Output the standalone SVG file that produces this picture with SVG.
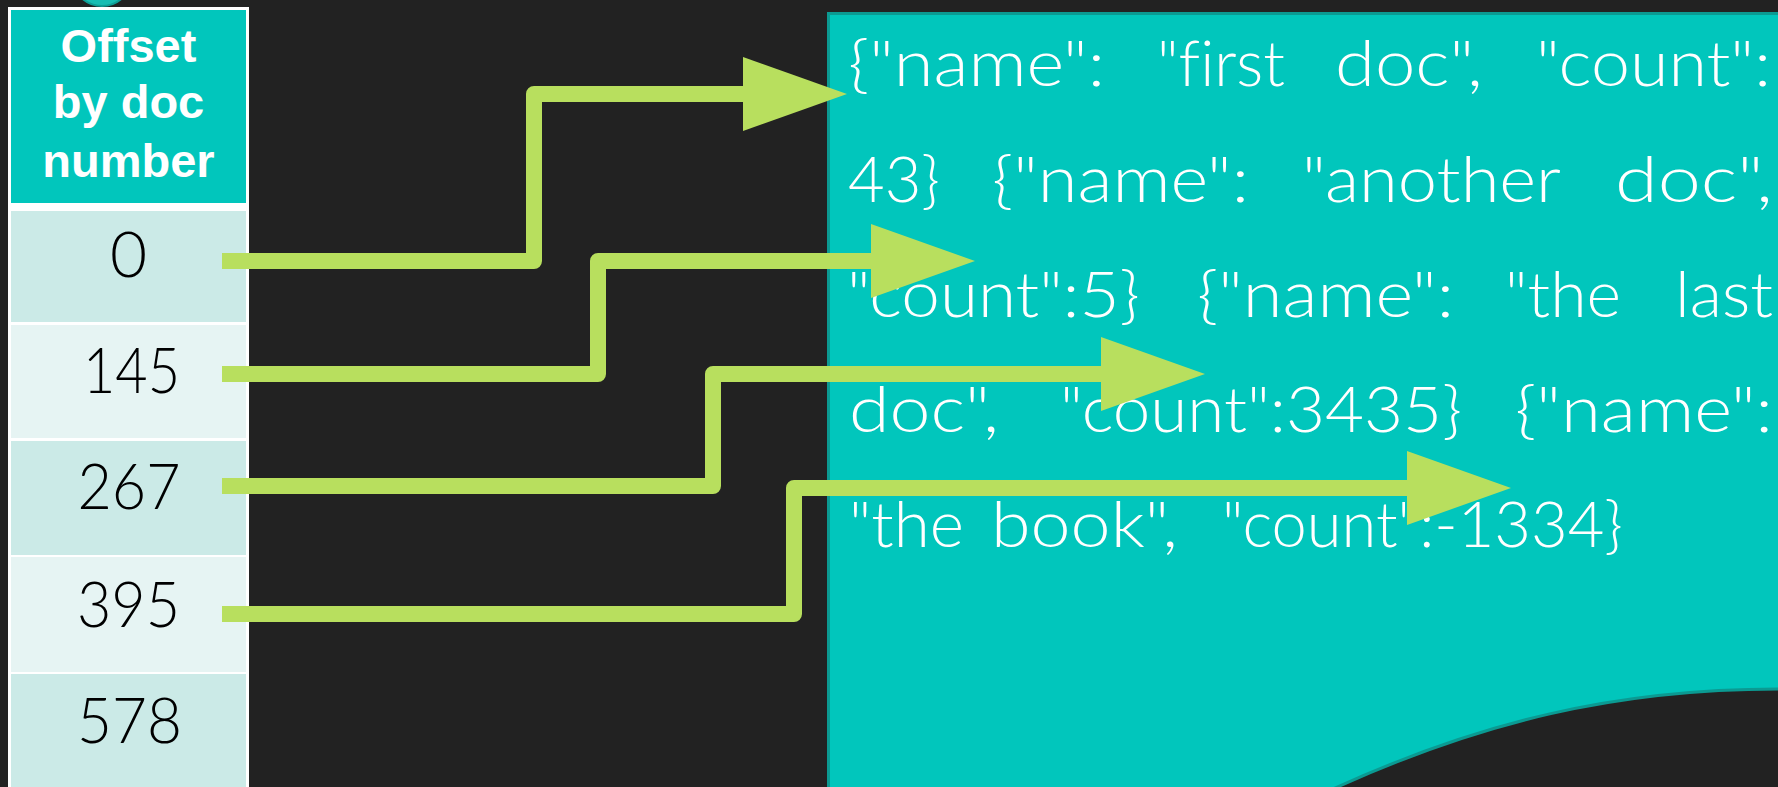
<svg xmlns="http://www.w3.org/2000/svg" width="1778" height="787" viewBox="0 0 1778 787">
  <defs>
    <style>
      .hdr { font-family: "Liberation Sans", Arial, sans-serif; font-weight: bold; font-size: 47px; fill: #ffffff; text-anchor: middle; }
      .num { font-family: Lato, "Liberation Sans", sans-serif; font-weight: 300; font-size: 64px; fill: #000000; text-anchor: middle; }
      .doc { font-family: Lato, "Liberation Sans", sans-serif; font-weight: 300; font-size: 63px; fill: #ffffff; font-variant-ligatures: none; font-feature-settings: "liga" 0, "clig" 0; }
      .rowA { fill: #CBEAE7; }
      .rowB { fill: #E6F4F3; }
      .conn { fill: none; stroke: #B8DF5E; stroke-width: 16; stroke-linejoin: round; stroke-linecap: butt; }
    </style>
    <marker id="arrow" markerUnits="userSpaceOnUse" viewBox="0 0 104 74" refX="1" refY="37" markerWidth="104" markerHeight="74" orient="auto">
      <polygon points="0,0 104,37 0,74" fill="#B8DF5E"/>
    </marker>
  </defs>

  <rect x="0" y="0" width="1778" height="787" fill="#222222"/>

  <circle cx="102" cy="-24" r="30" fill="#17BDB3" stroke="#0E9E96" stroke-width="2"/>

  <g id="table">
    <rect x="8" y="7" width="241" height="800" fill="#ffffff"/>
    <g id="header">
      <rect x="11" y="10" width="235" height="193" fill="#01C6BC"/>
      <text class="hdr" x="128.5" y="62">Offset</text>
      <text class="hdr" x="128.5" y="118">by doc</text>
      <text class="hdr" x="128.5" y="177">number</text>
    </g>
    <g id="row-0">
      <rect class="rowA" x="11" y="211" width="235" height="111"/>
      <text class="num" x="128.5" y="277">0</text>
    </g>
    <g id="row-145">
      <rect class="rowB" x="11" y="325" width="235" height="113"/>
      <text class="num" x="131.5" y="393" textLength="97" lengthAdjust="spacingAndGlyphs">145</text>
    </g>
    <g id="row-267">
      <rect class="rowA" x="11" y="441" width="235" height="114"/>
      <text class="num" x="129" y="509" textLength="103" lengthAdjust="spacingAndGlyphs">267</text>
    </g>
    <g id="row-395">
      <rect class="rowB" x="11" y="557" width="235" height="115"/>
      <text class="num" x="128.5" y="627" textLength="103" lengthAdjust="spacingAndGlyphs">395</text>
    </g>
    <g id="row-578">
      <rect class="rowA" x="11" y="674" width="235" height="130"/>
      <text class="num" x="129.5" y="743" textLength="105" lengthAdjust="spacingAndGlyphs">578</text>
    </g>
  </g>

  <g id="document">
    <path d="M828.5,13.5 H1800 V689 H1778 C1620,689 1480,720 1320,795 L828.5,795 Z" fill="#01C6BC" stroke="#0B9A92" stroke-width="3"/>
    <g class="doc">
      <text y="86"><tspan x="848" textLength="257" lengthAdjust="spacingAndGlyphs">{"name":</tspan><tspan x="1157" textLength="128" lengthAdjust="spacingAndGlyphs">"first</tspan><tspan x="1335" textLength="148" lengthAdjust="spacingAndGlyphs">doc",</tspan><tspan x="1536" textLength="235" lengthAdjust="spacingAndGlyphs">"count":</tspan></text>
      <text y="202"><tspan x="848" textLength="92" lengthAdjust="spacingAndGlyphs">43}</tspan><tspan x="992" textLength="257" lengthAdjust="spacingAndGlyphs">{"name":</tspan><tspan x="1302" textLength="259" lengthAdjust="spacingAndGlyphs">"another</tspan><tspan x="1615" textLength="158" lengthAdjust="spacingAndGlyphs">doc",</tspan></text>
      <text y="317"><tspan x="847" textLength="293" lengthAdjust="spacingAndGlyphs">"count":5}</tspan><tspan x="1197" textLength="257" lengthAdjust="spacingAndGlyphs">{"name":</tspan><tspan x="1505" textLength="116" lengthAdjust="spacingAndGlyphs">"the</tspan><tspan x="1675" textLength="98" lengthAdjust="spacingAndGlyphs">last</tspan></text>
      <text y="432"><tspan x="849" textLength="150" lengthAdjust="spacingAndGlyphs">doc",</tspan><tspan x="1060" textLength="402" lengthAdjust="spacingAndGlyphs">"count":3435}</tspan><tspan x="1515" textLength="258" lengthAdjust="spacingAndGlyphs">{"name":</tspan></text>
      <text y="547"><tspan x="849" textLength="115" lengthAdjust="spacingAndGlyphs">"the</tspan><tspan x="991" textLength="187" lengthAdjust="spacingAndGlyphs">book",</tspan><tspan x="1222" textLength="401" lengthAdjust="spacingAndGlyphs">"count":-1334}</tspan></text>
    </g>
  </g>

  <g id="connectors">
    <path class="conn" d="M222,261 H534 V94 H744" marker-end="url(#arrow)"/>
    <path class="conn" d="M222,374 H598 V261 H872" marker-end="url(#arrow)"/>
    <path class="conn" d="M222,486 H713 V374 H1102" marker-end="url(#arrow)"/>
    <path class="conn" d="M222,614 H794 V488 H1408" marker-end="url(#arrow)"/>
  </g>
</svg>
